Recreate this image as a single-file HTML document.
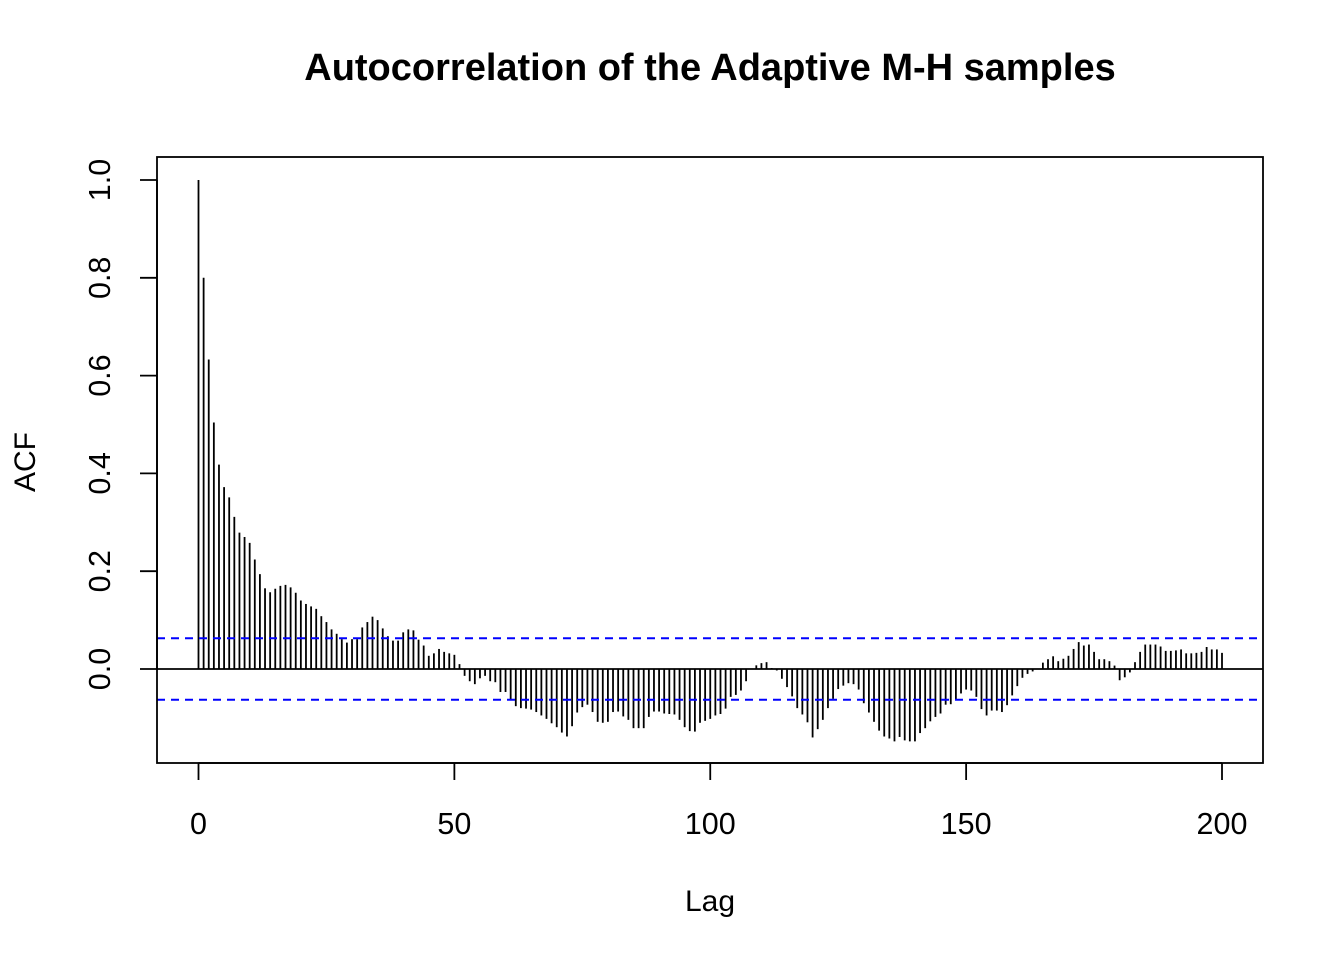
<!DOCTYPE html>
<html><head><meta charset="utf-8"><style>
html,body{margin:0;padding:0;background:#fff;}
svg{display:block;font-family:"Liberation Sans",Arial,sans-serif;}
</style></head><body>
<svg id="chart" width="1344" height="960" viewBox="0 0 1344 960" xmlns="http://www.w3.org/2000/svg">
<rect width="1344" height="960" fill="#fff"/>
<text x="710" y="80" text-anchor="middle" font-size="38" font-weight="bold">Autocorrelation of the Adaptive M-H samples</text>
<text x="710" y="911" text-anchor="middle" font-size="30">Lag</text>
<text transform="translate(35,462) rotate(-90)" text-anchor="middle" font-size="30">ACF</text>
<g id="bars"></g>
<g id="axes"></g>
<rect x="157" y="157" width="1106" height="606" fill="none" stroke="#000" stroke-width="1.8"/>
</svg>
<script>
const acfValues = [1.0,.80,.633,.504,.418,.372,.351,.311,.279,.270,.258,.224,.194,.165,.157,.164,.170,.172,.167,.156,
.140,.133,.128,.123,.108,.096,.081,.072,.061,.054,.061,.061,.085,.096,.107,.100,.083,.067,.058,.058,
.075,.081,.079,.060,.048,.027,.032,.041,.035,.032,.029,.010,
-.014,-.025,-.031,-.019,-.014,-.025,-.027,-.047,-.047,-.063,-.076,-.080,-.081,-.083,-.088,-.095,-.102,-.111,-.119,-.130,-.138,
-.117,-.089,-.078,-.073,-.088,-.108,-.110,-.108,-.088,-.087,-.097,-.104,-.121,-.121,-.121,-.098,-.087,-.087,-.091,-.092,-.093,
-.104,-.119,-.127,-.128,-.110,-.106,-.102,-.095,-.092,-.081,-.057,-.053,-.044,-.025,.000,.0075,.012,.014,.002,
-.003,-.020,-.037,-.056,-.080,-.093,-.109,-.140,-.123,-.104,-.080,-.061,-.041,-.034,-.029,-.031,-.042,-.070,-.089,-.108,
-.126,-.138,-.142,-.148,-.139,-.146,-.148,-.148,-.131,-.121,-.107,-.098,-.091,-.073,-.072,-.063,-.050,-.042,-.044,-.057,
-.082,-.095,-.085,-.085,-.088,-.074,-.054,-.035,-.018,-.010,-.005,.000,.013,.020,.026,.016,.021,.027,.041,.055,.048,.050,
.035,.020,.020,.016,.007,-.023,-.017,-.007,.014,.035,.050,.050,.050,.046,.037,.037,.038,.040,.032,.032,.033,.035,.045,.040,.040,.033];
const ciBound = 0.063;
const xTicks = [0,50,100,150,200];
const yTicks = [0.0,0.2,0.4,0.6,0.8,1.0];
const yTickLabels = ["0.0","0.2","0.4","0.6","0.8","1.0"];

const NS="http://www.w3.org/2000/svg";
const xScale = l => 198.5 + l*5.1175;
const yScale = v => 669 - v*489;
function mk(tag, attrs, parent){const e=document.createElementNS(NS,tag);for(const k in attrs)e.setAttribute(k,attrs[k]);parent.appendChild(e);return e;}
const bars=document.getElementById('bars'), axes=document.getElementById('axes');

acfValues.forEach((v,i)=>{
  const l=mk('line',{x1:xScale(i),x2:xScale(i),y1:yScale(0),y2:yScale(v),stroke:'#000','stroke-width':1.8},bars);
  
  
});
const zl=mk('line',{x1:157,x2:1263,y1:yScale(0),y2:yScale(0),stroke:'#000','stroke-width':1.8},bars);


[ciBound,-ciBound].forEach((c,i)=>{
  const l=mk('line',{x1:157,x2:1263,y1:yScale(c),y2:yScale(c),stroke:'#0000ff','stroke-width':2,'stroke-dasharray':'8 6'},bars);
  
  
});
const xa=mk('line',{x1:xScale(xTicks[0]),x2:xScale(xTicks[xTicks.length-1]),y1:763,y2:763,stroke:'#000','stroke-width':1.8},axes);


xTicks.forEach(t=>{
  const tk=mk('line',{x1:xScale(t),x2:xScale(t),y1:763,y2:780,stroke:'#000','stroke-width':1.8},axes);
  
  
  const tx=mk('text',{x:xScale(t),y:834,'text-anchor':'middle','font-size':30.5},axes);
  tx.textContent=t;
  
  
});
const ya=mk('line',{x1:157,x2:157,y1:yScale(0),y2:yScale(1),stroke:'#000','stroke-width':1.8},axes);


yTicks.forEach((t,i)=>{
  const tk=mk('line',{x1:140,x2:157,y1:yScale(t),y2:yScale(t),stroke:'#000','stroke-width':1.8},axes);
  
  
  const tx=mk('text',{transform:'translate(110,'+yScale(t)+') rotate(-90)','text-anchor':'middle','font-size':30.5},axes);
  tx.textContent=yTickLabels[i];
  
  
});
</script>
</body></html>
